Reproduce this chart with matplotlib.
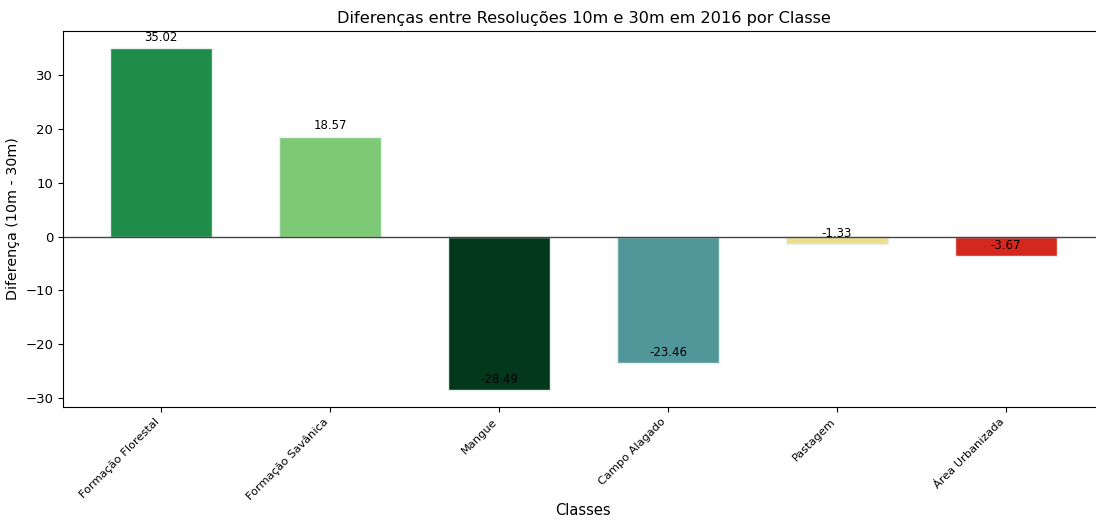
import matplotlib
matplotlib.use("Agg")
import matplotlib.pyplot as plt

classes = ["Formação Florestal", "Formação Savânica", "Mangue", "Campo Alagado", "Pastagem", "Área Urbanizada"]
diffs = [35.02, 18.57, -28.49, -23.46, -1.33, -3.67]
colors = ["#1f8d49", "#7dc975", "#04381d", "#519799", "#edde8e", "#d4271e"]

fig = plt.figure(figsize=(10.96, 5.2), dpi=100)
W, H = 1096, 520
left, right, top, bottom = 63, 1104, 31, 407
ax = fig.add_axes([left / W, 1 - bottom / H, (right - left) / W, (bottom - top) / H])

x = list(range(len(classes)))
bars = ax.bar(x, diffs, width=0.6, color=colors, edgecolor="#e8f0ee", linewidth=1)
ax.axhline(0, color="#444444", linewidth=1)

for b, v in zip(bars, diffs):
    ax.annotate(f"{v:.2f}", (b.get_x() + b.get_width() / 2, v), xytext=(0, 3),
                textcoords="offset points", ha="center", va="bottom", fontsize=8.5)

ax.set_xticks(x)
ax.set_xticklabels(classes, rotation=45, ha="right", fontsize=8.2)
ax.tick_params(axis="y", labelsize=9.5)
ax.set_xlabel("Classes", fontsize=10.5)
ax.set_ylabel("Diferença (10m - 30m)", fontsize=10.3)
ax.xaxis.set_label_coords((583 - left) / (right - left), (407 - 503) / (bottom - top))
ax.yaxis.set_label_coords((20 - left) / (right - left), 0.5)
ax.set_title("Diferenças entre Resoluções 10m e 30m em 2016 por Classe", fontsize=11.6)
ax.margins(x=0.05, y=0.05)

fig.savefig("out.png", dpi=100)
